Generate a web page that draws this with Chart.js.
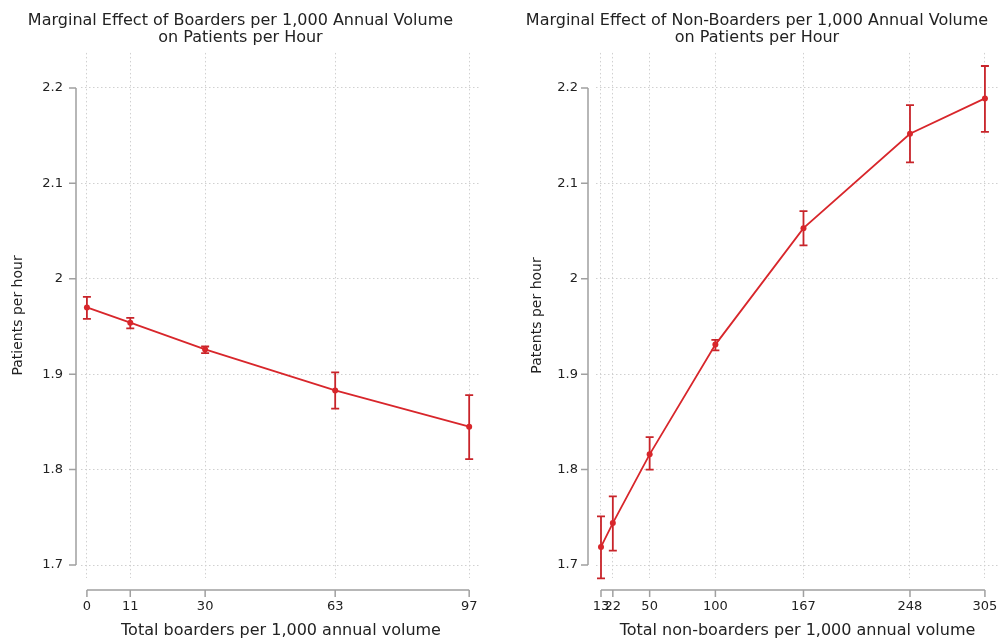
<!DOCTYPE html>
<html>
<head>
<meta charset="utf-8">
<script src="https://cdn.jsdelivr.net/npm/chart.js@4.4.1/dist/chart.umd.min.js"></script>
<style>
  html, body { margin: 0; padding: 0; background: #ffffff; }
  body { width: 999px; height: 641px; position: relative; overflow: hidden; }
  .box { position: absolute; top: 0; height: 641px; }
  #leftBox { left: 0; width: 483px; }
  #rightBox { left: 515px; width: 484px; }
</style>
</head>
<body>
<div class="box" id="leftBox"><canvas id="leftChart"></canvas></div>
<div class="box" id="rightBox"><canvas id="rightChart"></canvas></div>
<script>
// ---- Data ----
const boardersX = [0, 11, 30, 63, 97];
const boardersY = [1.970, 1.954, 1.926, 1.883, 1.845];
const boardersLo = [1.958, 1.948, 1.922, 1.864, 1.811];
const boardersHi = [1.981, 1.959, 1.929, 1.902, 1.878];

const nonBoardersX = [13, 22, 50, 100, 167, 248, 305];
const nonBoardersY = [1.719, 1.744, 1.816, 1.931, 2.053, 2.152, 2.189];
const nonBoardersLo = [1.686, 1.715, 1.800, 1.925, 2.035, 2.122, 2.154];
const nonBoardersHi = [1.751, 1.772, 1.834, 1.936, 2.071, 2.182, 2.223];

const yTicks = [1.7, 1.8, 1.9, 2.0, 2.1, 2.2];

const leftTitle = ['Marginal Effect of Boarders per 1,000 Annual Volume', 'on Patients per Hour'];
const rightTitle = ['Marginal Effect of Non-Boarders per 1,000 Annual Volume', 'on Patients per Hour'];
const leftXTitle = 'Total boarders per 1,000 annual volume';
const rightXTitle = 'Total non-boarders per 1,000 annual volume';
const leftYTitle = 'Patients per hour';
const rightYTitle = 'Patents per hour';

// ---- Styling ----
const FONT = "'DejaVu Sans', 'Liberation Sans', Arial, sans-serif";
const RED_LINE = '#d8262b';
const RED_BAR = '#c8242a';
const AXIS_GRAY = '#a0a0a0';
const GRID_GRAY = '#d0d0d0';
const TEXT = '#222222';

Chart.defaults.font.family = FONT;
Chart.defaults.color = TEXT;

const stataAxes = {
  id: 'stataAxes',
  beforeDatasetsDraw(chart, args, opts) {
    const xs = chart.scales.x, ys = chart.scales.y;
    const ctx = chart.ctx;
    const ds = chart.data.datasets[0];
    ctx.save();
    ctx.strokeStyle = RED_BAR;
    ctx.lineWidth = 1.8;
    ds.data.forEach((p, i) => {
      const px = xs.getPixelForValue(p.x);
      const top = ys.getPixelForValue(opts.hi[i]);
      const bot = ys.getPixelForValue(opts.lo[i]);
      ctx.beginPath();
      ctx.moveTo(px, top); ctx.lineTo(px, bot);
      ctx.moveTo(px - 4, top); ctx.lineTo(px + 4, top);
      ctx.moveTo(px - 4, bot); ctx.lineTo(px + 4, bot);
      ctx.stroke();
    });
    ctx.restore();
  },
  afterDraw(chart, args, opts) {
    const xs = chart.scales.x, ys = chart.scales.y;
    const ca = chart.chartArea;
    const ctx = chart.ctx;
    ctx.save();
    ctx.strokeStyle = AXIS_GRAY;
    ctx.lineWidth = 1.5;
    // y axis
    const ax = ca.left - opts.yGap;
    const yTop = ys.getPixelForValue(yTicks[yTicks.length - 1]);
    const yBot = ys.getPixelForValue(yTicks[0]);
    ctx.beginPath();
    ctx.moveTo(ax, yTop); ctx.lineTo(ax, yBot);
    yTicks.forEach(v => {
      const py = ys.getPixelForValue(v);
      ctx.moveTo(ax, py); ctx.lineTo(ax - 7, py);
    });
    ctx.stroke();
    // x axis
    const ay = ca.bottom + 12;
    const xt = opts.xTicks;
    ctx.beginPath();
    ctx.moveTo(xs.getPixelForValue(xt[0]), ay);
    ctx.lineTo(xs.getPixelForValue(xt[xt.length - 1]), ay);
    xt.forEach(v => {
      const px = xs.getPixelForValue(v);
      ctx.moveTo(px, ay); ctx.lineTo(px, ay + 7);
    });
    ctx.stroke();
    ctx.restore();
  }
};

function makeChart(canvasId, cfg) {
  const pts = cfg.x.map((v, i) => ({ x: v, y: cfg.y[i] }));
  return new Chart(document.getElementById(canvasId), {
    type: 'line',
    data: {
      datasets: [{
        data: pts,
        borderColor: RED_LINE,
        backgroundColor: RED_LINE,
        borderWidth: 1.8,
        pointRadius: 3,
        pointBorderWidth: 0,
        pointBackgroundColor: RED_LINE,
        tension: 0,
        fill: false,
        clip: false
      }]
    },
    options: {
      responsive: true,
      maintainAspectRatio: false,
      animation: false,
      events: [],
      layout: { autoPadding: false, padding: { left: 0, right: cfg.padRight, top: 0, bottom: 0 } },
      plugins: {
        legend: { display: false },
        tooltip: { enabled: false },
        title: {
          display: true,
          text: cfg.title,
          color: TEXT,
          font: { size: 16, weight: 'normal', family: FONT, lineHeight: 1.06 },
          padding: { top: 12, bottom: 7 }
        },
        stataAxes: { lo: cfg.lo, hi: cfg.hi, xTicks: cfg.x, yGap: cfg.yGap }
      },
      scales: {
        x: {
          type: 'linear',
          min: cfg.xMin,
          max: cfg.xMax,
          afterBuildTicks: (s) => { s.ticks = cfg.x.map(v => ({ value: v })); },
          afterFit: (s) => { s.height = 63; s.paddingLeft = 0; s.paddingRight = 0; },
          ticks: {
            autoSkip: false,
            maxRotation: 0,
            padding: 21,
            color: TEXT,
            font: { size: 13, family: FONT },
            callback: (v) => String(v)
          },
          grid: { color: GRID_GRAY, lineWidth: 1, drawTicks: false },
          border: { display: false, dash: [1.5, 2.5] },
          title: {
            display: true,
            text: cfg.xTitle,
            color: TEXT,
            font: { size: 16, family: FONT },
            padding: { top: 0, bottom: 1 }
          }
        },
        y: {
          type: 'linear',
          min: 1.6864,
          max: 2.2367,
          afterBuildTicks: (s) => { s.ticks = yTicks.map(v => ({ value: v })); },
          afterFit: (s) => { s.width = 81; s.paddingTop = 0; s.paddingBottom = 0; },
          ticks: {
            padding: 18,
            color: TEXT,
            font: { size: 13, family: FONT },
            callback: (v) => String(Math.round(v * 10) / 10)
          },
          grid: { color: GRID_GRAY, lineWidth: 1, drawTicks: false },
          border: { display: false, dash: [1.5, 2.5] },
          title: {
            display: true,
            text: cfg.yTitle,
            color: TEXT,
            font: { size: 14, family: FONT },
            padding: { top: cfg.yTitlePad, bottom: 0 }
          }
        }
      }
    },
    plugins: [stataAxes]
  });
}

makeChart('leftChart', {
  x: boardersX, y: boardersY, lo: boardersLo, hi: boardersHi,
  xMin: -1.5, xMax: 100, padRight: 2, yGap: 5, yTitlePad: 10,
  title: leftTitle, xTitle: leftXTitle, yTitle: leftYTitle
});

makeChart('rightChart', {
  x: nonBoardersX, y: nonBoardersY, lo: nonBoardersLo, hi: nonBoardersHi,
  xMin: 9.2, xMax: 315.7, padRight: 0, yGap: 8, yTitlePad: 14,
  title: rightTitle, xTitle: rightXTitle, yTitle: rightYTitle
});
</script>
</body>
</html>
